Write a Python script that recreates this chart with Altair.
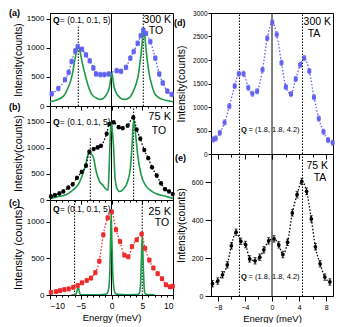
import altair as alt
import pandas as pd

FONT = "Liberation Sans"
BLUE = "#6262f2"
GREEN = "#1d9a48"
RED = "#ee2a2a"
BLACK = "#000000"

# ---------------- data ----------------
# (a) 300 K, TO
a_E = [-9.72, -8.65, -7.56, -6.97, -6.48, -5.88, -5.50, -4.80, -4.15, -3.55, -2.95, -2.52, -1.82, -1.17, -0.46,
       0.84, 1.54, 2.36, 3.06, 3.61, 4.26, 4.75, 5.17, 5.61, 6.31, 7.12, 7.77, 8.33, 9.08, 9.79]
a_I = [210, 301, 454, 579, 767, 949, 1022, 977, 880, 778, 653, 551, 540, 540, 551,
       608, 596, 665, 824, 937, 1079, 1210, 1306, 1250, 1108, 824, 551, 398, 256, 199]
ga_E = [-10, -9, -7.8, -7.0, -6.5, -6.0, -5.7, -5.4, -5.1, -4.8, -4.15, -3.6, -3.2, -2.5, -1.9, -1.4, -1.0,
        -0.6, -0.3, -0.12, 0.05, 0.22, 0.4, 0.7, 1.12, 1.6, 2.2, 2.6, 3.0, 3.56, 4.0, 4.37, 4.65, 4.91, 5.1,
        5.25, 5.4, 5.6, 5.85, 6.15, 6.5, 6.96, 7.6, 8.3, 9.2, 10]
ga_I = [74, 100, 170, 330, 483, 767, 930, 1022, 930, 767, 483, 290, 200, 140, 114, 125, 170,
        240, 340, 470, 568, 470, 340, 240, 170, 125, 114, 125, 150, 256, 380, 540, 760, 994, 1220,
        1306, 1220, 994, 760, 540, 380, 227, 150, 114, 90, 74]

# (b) 75 K, TO
b_E = [-9.84, -9.19, -8.48, -7.83, -7.02, -6.31, -5.61, -4.85, -4.15, -3.60, -2.90, -2.25, -1.71, -0.79, -0.36,
       0.35, 1.17, 1.82, 2.63, 3.55, 4.09, 4.68, 5.33, 5.98, 6.59, 7.35, 8.05, 8.70, 9.35, 9.95]
b_I = [69, 94, 125, 163, 238, 300, 425, 538, 656, 925, 975, 1006, 1038, 1269, 1456,
       1488, 1394, 1375, 1425, 1581, 1350, 1175, 956, 800, 625, 469, 319, 206, 163, 113]
gb_E = [-9.84, -8.5, -7.4, -6.5, -5.8, -5.3, -4.9, -4.5, -4.15, -3.85, -3.55, -3.25, -2.9, -2.5, -1.96, -1.3,
        -0.9, -0.57, -0.45, -0.3, -0.15, 0.0, 0.15, 0.35, 0.57, 0.84, 1.28, 1.93, 2.64, 3.07, 3.34, 3.61, 3.88,
        4.26, 4.8, 5.6, 6.4, 7.2, 8.5, 10]
gb_I = [31, 70, 100, 170, 238, 320, 425, 560, 706, 860, 938, 880, 800, 550, 363, 269,
        206, 188, 400, 900, 1350, 1488, 1300, 988, 425, 238, 163, 206, 363, 613, 1050, 1550, 1300,
        863, 488, 269, 180, 125, 80, 31]

# (c) 25 K, TO
c_E = [-9.84, -9.02, -8.37, -7.67, -6.97, -6.21, -5.50, -4.80, -4.03, -3.33, -2.63, -1.98, -1.33, -0.62, 0.03,
       0.73, 1.38, 2.09, 2.73, 3.33, 4.09, 4.90, 5.45, 6.15, 6.80, 7.51, 8.21, 8.86, 9.51, 9.95]
c_I = [37, 46, 60, 74, 83, 106, 130, 167, 199, 232, 306, 463, 824, 1056, 1139,
       894, 732, 546, 523, 662, 755, 834, 639, 477, 370, 292, 222, 139, 111, 120]
gc_E = [-6.5, -5.87, -5.65, -5.44, -5.22, -5.0, -4.5, -2.0, -1.0, -0.71, -0.45, -0.28, -0.15, -0.06, 0.05,
        0.18, 0.35, 0.6, 1.0, 2.5, 4.2, 4.5, 4.7, 4.85, 5.0, 5.15, 5.3, 5.45, 5.8, 7.0]
gc_I = [2, 4, 40, 120, 40, 4, 2, 3, 8, 20, 90, 300, 750, 1139, 800,
        350, 120, 25, 8, 3, 5, 20, 120, 450, 824, 450, 120, 20, 5, 2]

# (d) 300 K, TA
d_E = [-8.64, -8.3, -7.7, -7.0, -6.3, -5.5, -4.9, -4.2, -3.5, -2.9, -2.2, -1.4, -0.7, 0.04, 0.7, 1.4,
       2.05, 2.8, 3.5, 4.16, 4.75, 5.5, 6.2, 6.9, 7.6, 8.27, 8.95]
d_I = [310, 332, 452, 670, 1016, 1447, 1708, 1708, 1411, 1284, 1334, 1793, 2463, 2802, 2541, 1941,
       1426, 1277, 1595, 1898, 2039, 1764, 1207, 755, 473, 296, 240]

# (e) 75 K, TA
e_E = [-8.78, -8.0, -7.3, -6.6, -6.0, -5.3, -4.6, -3.9, -3.3, -2.5, -1.8, -1.2, -0.5, 0.3, 1.0, 1.6,
       2.3, 3.0, 3.7, 4.4, 5.1, 5.8, 6.4, 7.1, 7.8, 8.54]
e_I = [65, 79, 112, 165, 265, 337, 289, 272, 196, 186, 205, 244, 291, 302, 270, 219,
       284, 439, 535, 605, 553, 407, 260, 170, 100, 74]

# error bar half-heights (estimated)
a_err, b_err, c_err, d_err, e_err = 40, 30, 28, 55, 17

# peak markers
a_dot = [-5.4, 5.17]
b_dot = [-3.45, 3.6]
c_dot = [-6.0, 5.0]
d_dot = [-4.8, 4.5]
e_dot = [-4.8, 4.5]
a_dot_top = [1364, 1600]
b_dot_top = [1206, 1800]

# axis tick values
L_XTICKS = list(range(-10, 11))
R_XTICKS = list(range(-8, 9, 2))
A_YTICKS = [0, 500, 1000, 1500]
B_YTICKS = [0, 500, 1000, 1500]
C_YTICKS = [0, 500, 1000]
D_YTICKS = [0, 500, 1000, 1500, 2000, 2500, 3000]
E_YTICKS = [0, 200, 400, 600]

ONE = pd.DataFrame({"k": [0]})


def txt(s, x, y, size, align="left", weight="normal", opacity=1):
    return alt.Chart(ONE).mark_text(
        text=s, align=align, baseline="middle", fontSize=size, font=FONT,
        fontWeight=weight, color=BLACK, opacity=opacity
    ).encode(x=alt.value(x), y=alt.value(y))


def panel(w, h, xdom, ydom, xaxis, yaxis, E, I, err, color, shape, size,
          dots, dot_tops=None, green=None, texts=()):
    df = pd.DataFrame({"E": E, "I": I,
                       "lo": [v - err for v in I], "hi": [v + err for v in I]})
    xs = alt.Scale(domain=xdom, nice=False, zero=False)
    ys = alt.Scale(domain=ydom, nice=False, zero=False)
    X = alt.X("E:Q", scale=xs, axis=xaxis)
    layers = []
    layers.append(alt.Chart(pd.DataFrame({"E": [0]})).mark_rule(
        color=BLACK, strokeWidth=1).encode(x=X))
    tops = dot_tops if dot_tops is not None else [ydom[1]] * len(dots)
    vd = pd.DataFrame({"E": dots, "y0": [ydom[0]] * len(dots), "y1": tops})
    layers.append(alt.Chart(vd).mark_rule(
        color=BLACK, strokeWidth=1, strokeDash=[1.5, 1.5]).encode(
        x=X, y=alt.Y("y0:Q", scale=ys, axis=yaxis), y2="y1:Q"))
    if green is not None:
        gd = pd.DataFrame({"E": green[0], "I": green[1]})
        layers.append(alt.Chart(gd).mark_line(
            color=GREEN, strokeWidth=1.6, interpolate="monotone", clip=True).encode(
            x=X, y=alt.Y("I:Q", scale=ys, axis=yaxis)))
    base = alt.Chart(df)
    layers.append(base.mark_line(
        color=color, strokeWidth=1.3, strokeDash=[1.5, 1.8], interpolate="monotone").encode(
        x=X, y=alt.Y("I:Q", scale=ys, axis=yaxis)))
    layers.append(base.mark_errorbar(color=color, ticks={"size": 3}, thickness=1).encode(
        x=X, y=alt.Y("lo:Q", scale=ys, axis=yaxis), y2="hi:Q"))
    layers.append(base.mark_point(
        shape=shape, filled=True, size=size, color=color, opacity=1).encode(
        x=X, y=alt.Y("I:Q", scale=ys, axis=yaxis)))
    layers.extend(texts)
    return alt.layer(*layers).properties(width=w, height=h)


def yaxis(values, title, lsize, tsize, tick, pad, tpad):
    return alt.Axis(values=values, title=title, labelFontSize=lsize, titleFontSize=tsize,
                    tickSize=tick, labelPadding=pad, titlePadding=tpad, grid=False, format="d",
                    labelFont=FONT, titleFont=FONT)


def xaxis(values, every, show, lsize=8.5, title=None, major=4, minor=2):
    ts = {"condition": {"test": f"datum.value % {every} === 0", "value": major}, "value": minor}
    kw = dict(values=values, grid=False, tickSize=ts, labelFont=FONT, titleFont=FONT)
    if show:
        return alt.Axis(labelExpr=f"datum.value % {every} === 0 ? datum.label : ''",
                        labelFontSize=lsize, title=title, titleFontSize=9.5,
                        labelPadding=2, titlePadding=3, **kw)
    return alt.Axis(labels=False, title=None, **kw)


LW = 123
pa = panel(LW, 93, [-10, 10], [0, 1600], xaxis(L_XTICKS, 5, False),
           yaxis(A_YTICKS, "Intensity(counts)", 8, 10, 4, 2, 3),
           a_E, a_I, a_err, BLUE, "square", 18, a_dot, a_dot_top, (ga_E, ga_I),
           [txt("(a)", -41, 0, 9, weight="bold"),
            txt("Q", 3, 7, 8.5, weight="bold"), txt("= (0.1, 0.1, 5)", 9.8, 7, 8.5),
            txt("300 K", 121, 7, 10.5, align="right"), txt("TO", 106, 18, 10.5, align="center")])
pb = panel(LW, 94, [-10, 10], [0, 1800], xaxis(L_XTICKS, 5, False),
           yaxis(B_YTICKS, "Intensity(counts)", 8, 10.5, 4, 2, 3),
           b_E, b_I, b_err, BLACK, "circle", 18, b_dot, b_dot_top, (gb_E, gb_I),
           [txt("(b)", -41, 1, 9, weight="bold"),
            txt("Q", 3, 16, 8.5, weight="bold"), txt("= (0.1, 0.1, 5)", 9.8, 16, 8.5),
            txt("75 K", 121, 11, 11, align="right"), txt("TO", 109, 25, 10.5, align="center")])
pc = panel(LW, 95, [-10, 10], [0, 1300], xaxis(L_XTICKS, 5, True, 8.5, "Energy (meV)"),
           yaxis(C_YTICKS, "Intensity (counts)", 8, 11, 4, 2, 3),
           c_E, c_I, c_err, RED, "square", 18, c_dot, None, (gc_E, gc_I),
           [txt("(c)", -41, 3, 9, weight="bold"),
            txt("Q", 3, 9, 8.5, weight="bold"), txt("= (0.1, 0.1, 5)", 9.8, 9, 8.5),
            txt("25 K", 121, 11.5, 11, align="right"), txt("TO", 112, 23, 10.5, align="center")])

RW = 122
pd_ = panel(RW, 141, [-9, 9], [0, 3000], xaxis(R_XTICKS, 4, False, major=5, minor=3),
            yaxis(D_YTICKS, "Intensity(counts)", 6.5, 10.5, 3, 1, 6),
            d_E, d_I, d_err, BLUE, "square", 16, d_dot, None, None,
            [txt("(a)", 60, 0, 9, weight="bold", opacity=0),
             txt("(d)", -37, 10, 9, weight="bold"),
             txt("Q", 30, 117, 7.5, weight="bold"), txt("= (1.8, 1.8, 4.2)", 37.5, 117, 7.5),
             txt("300 K", 120, 9, 10.5, align="right"), txt("TA", 103, 21, 10.5, align="center")])
pe = panel(RW, 142, [-9, 9], [0, 750], xaxis(R_XTICKS, 4, True, 7, "Energy (meV)", major=5, minor=3),
           yaxis(E_YTICKS, "Intensity(counts)", 7, 10.2, 6, 2, 5),
           e_E, e_I, e_err, BLACK, "circle", 14, e_dot, None, None,
           [txt("(e)", -36, 4, 9, weight="bold"),
            txt("Q", 30, 123, 7.5, weight="bold"), txt("= (1.8, 1.8, 4.2)", 37.5, 123, 7.5),
            txt("75 K", 117, 12, 10.5, align="right"), txt("TA", 109, 24, 10.5, align="center")])

left = alt.vconcat(pa, pb, pc, spacing=0, bounds="flush")
right = alt.vconcat(pd_, pe, spacing=0, bounds="flush")

chart = alt.hconcat(left, right, spacing=-3).properties(padding=0).configure_view(
    stroke=BLACK, strokeWidth=1
).configure_axis(
    domainColor=BLACK, tickColor=BLACK, labelColor=BLACK, titleColor=BLACK,
    titleFontWeight="normal", domainWidth=1, tickWidth=1
)

chart.save("out.html", embed_options={"renderer": "svg", "actions": False})
